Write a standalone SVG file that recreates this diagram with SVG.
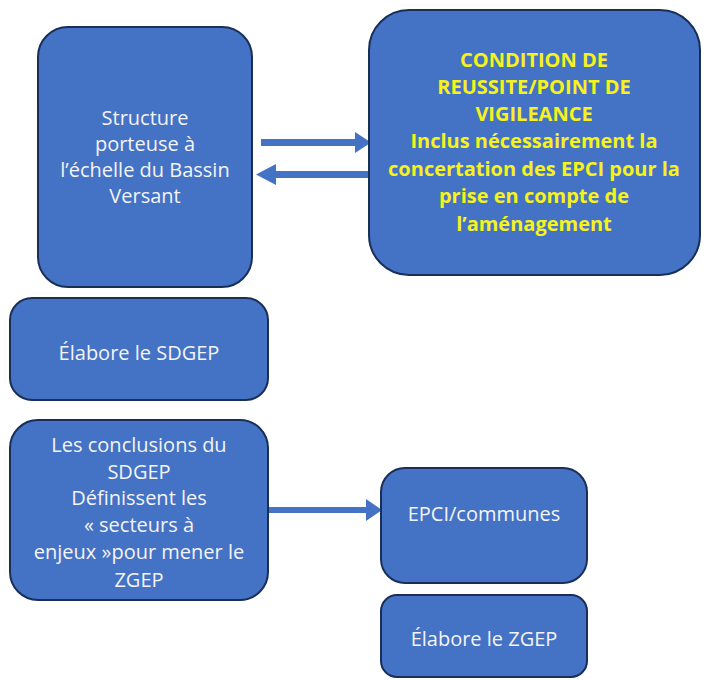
<svg xmlns="http://www.w3.org/2000/svg" width="705" height="680" viewBox="0 0 705 680">
  <style>
    .box { fill: #4472C4; stroke: #1a2f57; stroke-width: 2; }
    .lbl { font-family: "Open Sans", "Liberation Sans", sans-serif; font-size: 20px; fill: #f4f4f4; text-anchor: middle; }
    .warn { font-family: "Open Sans", "Liberation Sans", sans-serif; font-size: 20px; font-weight: bold; fill: #f7f21c; text-anchor: middle; }
    .arrow { fill: #4472C4; }
  </style>
  <rect width="705" height="680" fill="#ffffff"/>

  <g id="connectors">
    <!-- structure -> condition -->
    <path class="arrow" d="M261,139 H355 V132 L371,142.5 L355,153 V146 H261 Z"/>
    <!-- condition -> structure -->
    <path class="arrow" d="M368,171 H276 V164 L256,174.5 L276,185 V178 H368 Z"/>
    <!-- conclusions -> EPCI -->
    <path class="arrow" d="M268,507 H366 V499 L382,510 L366,521 V513 H268 Z"/>
  </g>

  <g id="structure-porteuse">
    <rect class="box" x="38" y="27" width="214" height="260" rx="30"/>
    <text class="lbl" x="145" y="125">Structure</text>
    <text class="lbl" x="145" y="151">porteuse à</text>
    <text class="lbl" x="145" y="177">l’échelle du Bassin</text>
    <text class="lbl" x="145" y="203">Versant</text>
  </g>

  <g id="condition-reussite">
    <rect class="box" x="369" y="10" width="331" height="265" rx="40"/>
    <text class="warn" x="534" y="67">CONDITION DE</text>
    <text class="warn" x="534" y="94">REUSSITE/POINT DE</text>
    <text class="warn" x="534" y="121">VIGILEANCE</text>
    <text class="warn" x="534" y="148">Inclus nécessairement la</text>
    <text class="warn" x="534" y="176">concertation des EPCI pour la</text>
    <text class="warn" x="534" y="203">prise en compte de</text>
    <text class="warn" x="534" y="231">l’aménagement</text>
  </g>

  <g id="elabore-sdgep">
    <rect class="box" x="10" y="298" width="258" height="102" rx="22"/>
    <text class="lbl" x="139" y="360">Élabore le SDGEP</text>
  </g>

  <g id="conclusions-sdgep">
    <rect class="box" x="10" y="420" width="258" height="180" rx="28"/>
    <text class="lbl" x="139" y="452">Les conclusions du</text>
    <text class="lbl" x="139" y="479">SDGEP</text>
    <text class="lbl" x="139" y="505">Définissent les</text>
    <text class="lbl" x="139" y="532">« secteurs à</text>
    <text class="lbl" x="139" y="559">enjeux »pour mener le</text>
    <text class="lbl" x="139" y="587">ZGEP</text>
  </g>

  <g id="epci-communes">
    <rect class="box" x="381" y="468" width="206" height="115" rx="24"/>
    <text class="lbl" x="484" y="521">EPCI/communes</text>
  </g>

  <g id="elabore-zgep">
    <rect class="box" x="381" y="595" width="206" height="82" rx="16"/>
    <text class="lbl" x="484" y="646">Élabore le ZGEP</text>
  </g>
</svg>
